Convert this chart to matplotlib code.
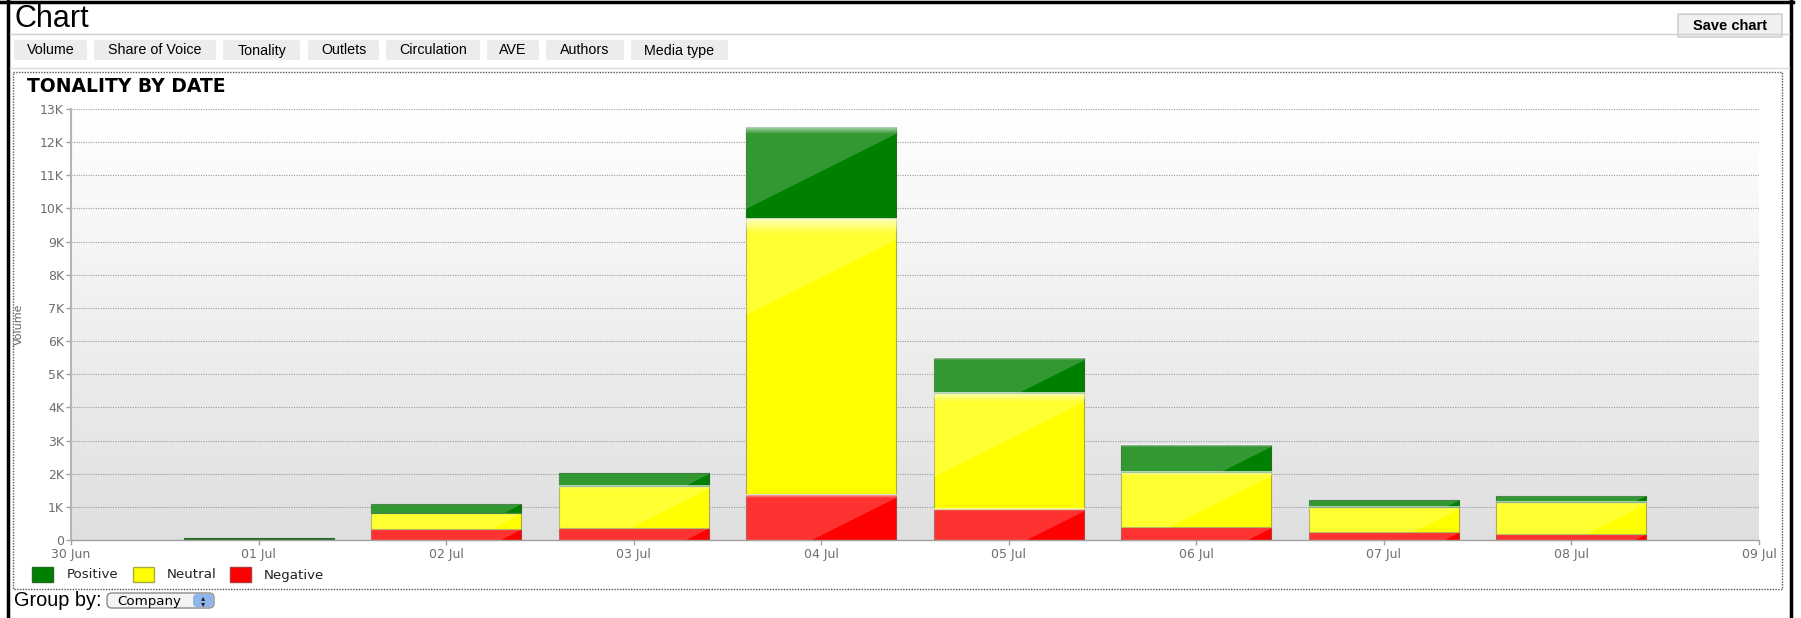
import numpy as np
import matplotlib.pyplot as plt
from matplotlib.patches import Rectangle, FancyBboxPatch, Polygon

# values (articles per day)
dates = ["01 Jul", "02 Jul", "03 Jul", "04 Jul", "05 Jul", "06 Jul", "07 Jul", "08 Jul"]
day_pos = [1, 2, 3, 4, 5, 6, 7, 8]  # days after 30 Jun
positive = [50, 270, 380, 2760, 1060, 810, 210, 180]
neutral = [10, 490, 1260, 8330, 3505, 1680, 760, 980]
negative = [10, 330, 370, 1380, 935, 380, 230, 180]

x_ticks = [0, 1, 2, 3, 4, 5, 6, 7, 8, 9]
x_tick_labels = ["30 Jun", "01 Jul", "02 Jul", "03 Jul", "04 Jul", "05 Jul",
                 "06 Jul", "07 Jul", "08 Jul", "09 Jul"]
y_ticks = [0, 1000, 2000, 3000, 4000, 5000, 6000, 7000, 8000, 9000, 10000, 11000, 12000, 13000]
y_tick_labels = ["0", "1K", "2K", "3K", "4K", "5K", "6K", "7K", "8K", "9K", "10K", "11K", "12K", "13K"]

series_names = ["Positive", "Neutral", "Negative"]
series_colors = ["#008000", "#ffff00", "#ff0000"]
series_edges = ["#236b23", "#a9a93e", "#b43a3a"]
menu_buttons = ["Volume", "Share of Voice", "Tonality", "Outlets", "Circulation", "AVE", "Authors", "Media type"]

W, H = 1801, 618
fig = plt.figure(figsize=(W / 100, H / 100), dpi=100)

# page furniture drawn in pixel coordinates
bg = fig.add_axes([0, 0, 1, 1])
bg.set_xlim(0, W)
bg.set_ylim(H, 0)
bg.axis("off")

bg.plot([0, 1793], [1.5, 1.5], color="black", lw=2.5)
bg.plot([8, 8], [0, H], color="black", lw=2.5)
bg.plot([1791, 1791], [0, H], color="black", lw=2.5)
bg.plot([10, 1789], [34, 34], color="#cfcfcf", lw=1)
bg.plot([10, 1789], [68, 68], color="#dcdcdc", lw=1)

bg.text(14, 19, "Chart", fontsize=22, family="Liberation Sans", va="center", ha="left")

btn_x = [14, 94, 223, 308, 386, 487, 546, 631]
btn_r = [87, 216, 300, 379, 480, 539, 624, 728]
for name, x0, x1 in zip(menu_buttons, btn_x, btn_r):
    bg.add_patch(FancyBboxPatch((x0, 40), x1 - x0, 20, boxstyle="round,pad=0,rounding_size=2",
                                fc="#ececec", ec="none"))
    bg.text((x0 + x1) / 2, 50.5, name, fontsize=10.3, family="Liberation Sans", ha="center", va="center")

bg.add_patch(FancyBboxPatch((1678, 14), 104, 23, boxstyle="round,pad=0,rounding_size=1",
                            fc="#f0f0f0", ec="#c8c8c8", lw=1))
bg.text(1730, 25.5, "Save chart", fontsize=10.5, weight="bold", family="Liberation Sans",
        ha="center", va="center")

bg.add_patch(Rectangle((13, 72), 1769, 517, fill=False, ec="#555555", lw=1, ls=(0, (1, 1))))
bg.text(27, 86, "TONALITY BY DATE", fontsize=13.5, weight="bold", family="DejaVu Sans",
        ha="left", va="center")

# legend
leg_sq = [32, 133, 230]
leg_tx = [67, 167, 264]
for name, c, e, sx, tx in zip(series_names, series_colors, series_edges, leg_sq, leg_tx):
    bg.add_patch(Rectangle((sx, 567), 21, 15, fc=c, ec=e, lw=1))
    bg.text(tx, 575, name, fontsize=9.6, family="DejaVu Sans", color="#222222", ha="left", va="center")

# group by selector
bg.text(14, 601, "Group by:", fontsize=14.3, family="Liberation Sans", ha="left", va="center")
bg.add_patch(FancyBboxPatch((107, 593), 107, 15, boxstyle="round,pad=0,rounding_size=5",
                            fc="#f4f4f4", ec="#8a8a8a", lw=1))
bg.add_patch(FancyBboxPatch((193, 594), 20, 13, boxstyle="round,pad=0,rounding_size=4",
                            fc="#8fb6ec", ec="none"))
bg.text(117, 601.5, "Company", fontsize=9.6, family="DejaVu Sans", ha="left", va="center")
bg.text(203, 598, "\u25b4", fontsize=6, ha="center", va="center", color="#222222")
bg.text(203, 604, "\u25be", fontsize=6, ha="center", va="center", color="#222222")

# chart axes
ax_l, ax_r, ax_t, ax_b = 71, 1759, 109, 540
ax = fig.add_axes([ax_l / W, (H - ax_b) / H, (ax_r - ax_l) / W, (ax_b - ax_t) / H])
ax.patch.set_visible(False)
ax.set_xlim(0, 9)
ax.set_ylim(0, 13000)

grad = np.linspace(1.0, 0.875, 256).reshape(-1, 1)
ax.imshow(np.dstack([grad, grad, grad]), extent=[0, 9, 0, 13000], aspect="auto", zorder=0)

for yv in y_ticks[1:]:
    ax.axhline(yv, color="#9a9a9a", lw=0.8, ls=(0, (1, 1.2)), zorder=1)

bottoms = np.zeros(len(day_pos))
stack = [negative, neutral, positive]
st_colors = [series_colors[2], series_colors[1], series_colors[0]]
st_edges = [series_edges[2], series_edges[1], series_edges[0]]
all_bars = []
for vals, c, e in zip(stack, st_colors, st_edges):
    bars = ax.bar(day_pos, vals, width=0.8, bottom=bottoms, color=c, edgecolor=e, lw=0.8, zorder=2)
    all_bars.append(bars)
    bottoms = bottoms + np.array(vals)

# glossy highlight on each segment
px_x = 9 / (ax_r - ax_l)
px_y = 13000 / (ax_b - ax_t)
for bars in all_bars:
    for r in bars:
        x, y, w, h = r.get_x(), r.get_y(), r.get_width(), r.get_height()
        if h / px_y < 2:
            continue
        yr = y + h - 0.08 * h
        drop = 0.5 * (w / px_x) * px_y
        if yr - drop >= y:
            pts = [(x, y + h), (x + w, y + h), (x + w, yr), (x, yr - drop)]
        else:
            xc = x + w - ((yr - y) / px_y / 0.5) * px_x
            pts = [(x, y + h), (x + w, y + h), (x + w, yr), (xc, y), (x, y)]
        ax.add_patch(Polygon(pts, closed=True, fc="white", alpha=0.2, ec="none", zorder=3))
        band = min(0.08 * h, 16 * px_y)
        if band > 2 * px_y:
            a = np.linspace(0.7, 0.0, 32).reshape(-1, 1)
            img = np.dstack([np.ones_like(a), np.ones_like(a), np.ones_like(a), a])
            ax.imshow(img, extent=[x, x + w, y + h - band, y + h], aspect="auto", zorder=3)

ax.set_xlim(0, 9)
ax.set_ylim(0, 13000)

for s in ["top", "right"]:
    ax.spines[s].set_visible(False)
ax.spines["left"].set_color("#b5b5b5")
ax.spines["left"].set_linewidth(1.5)
ax.spines["bottom"].set_color("#a0a0a0")
ax.spines["bottom"].set_linewidth(1)

ax.set_xticks(x_ticks)
ax.set_xticklabels(x_tick_labels)
ax.set_yticks(y_ticks)
ax.set_yticklabels(y_tick_labels)
ax.tick_params(axis="both", colors="#a0a0a0", labelcolor="#6e6e6e", length=3.6, width=1,
               labelsize=9, pad=1.5)
ax.tick_params(axis="x", pad=2)
for lab in ax.get_xticklabels() + ax.get_yticklabels():
    lab.set_family("DejaVu Sans")

ax.set_ylabel("Volume", fontsize=8, color="#666666", family="DejaVu Sans")
ax.yaxis.set_label_coords(-(ax_l - 24) / (ax_r - ax_l), 0.5)

fig.savefig("out.png", dpi=100)
